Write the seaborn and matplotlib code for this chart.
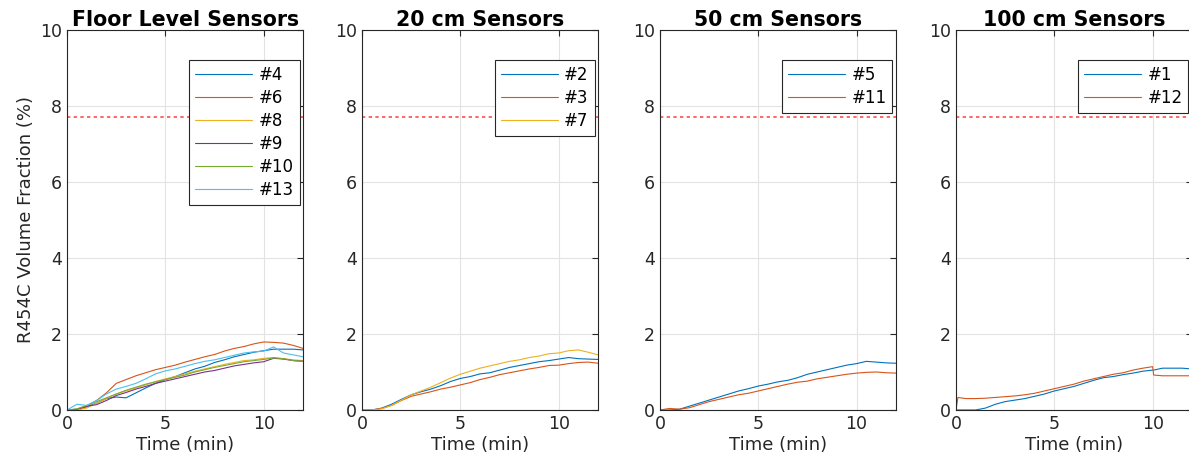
import matplotlib
matplotlib.use("Agg")
import matplotlib.pyplot as plt
import seaborn as sns
import pandas as pd

# MATLAB-like default colours
C_BLUE = "#0072BD"
C_ORANGE = "#D95319"
C_YELLOW = "#EDB120"
C_PURPLE = "#7E2F8E"
C_GREEN = "#77AC30"
C_CYAN = "#4DBEEE"

# Data (min, % volume fraction)
t = [0, 0.5, 1, 1.5, 2, 2.5, 3, 3.5, 4, 4.5, 5, 5.5, 6, 6.5, 7, 7.5, 8, 8.5,
     9, 9.5, 10, 10.5, 11, 11.5, 12]

floor_s4 = [0, 0, 0.08, 0.18, 0.3, 0.34, 0.32, 0.45, 0.58, 0.7, 0.8, 0.88, 0.98,
            1.08, 1.15, 1.25, 1.32, 1.4, 1.46, 1.52, 1.56, 1.6, 1.6, 1.6, 1.58]
floor_s6 = [0, 0, 0.1, 0.25, 0.45, 0.7, 0.8, 0.9, 0.98, 1.06, 1.12, 1.18, 1.26,
            1.33, 1.4, 1.46, 1.55, 1.62, 1.67, 1.74, 1.79, 1.78, 1.76, 1.7, 1.62]
floor_s8 = [0, 0, 0.05, 0.18, 0.3, 0.42, 0.5, 0.58, 0.66, 0.75, 0.82, 0.88, 0.95,
            1.02, 1.08, 1.14, 1.2, 1.25, 1.3, 1.32, 1.36, 1.38, 1.35, 1.32, 1.3]
floor_s9 = [0, 0.02, 0.1, 0.14, 0.25, 0.38, 0.46, 0.55, 0.62, 0.7, 0.76, 0.82, 0.88,
            0.94, 1.0, 1.04, 1.1, 1.16, 1.2, 1.24, 1.27, 1.36, 1.34, 1.3, 1.28]
floor_s10 = [0, 0.03, 0.12, 0.22, 0.32, 0.42, 0.52, 0.6, 0.68, 0.74, 0.8, 0.86, 0.92,
             1.0, 1.06, 1.12, 1.17, 1.22, 1.27, 1.3, 1.33, 1.37, 1.35, 1.3, 1.28]
floor_s13 = [0, 0.15, 0.12, 0.25, 0.42, 0.55, 0.62, 0.7, 0.82, 0.95, 1.03, 1.08, 1.15,
             1.22, 1.28, 1.32, 1.38, 1.44, 1.5, 1.53, 1.55, 1.66, 1.5, 1.45, 1.4]

cm20_s2 = [0, 0, 0.05, 0.15, 0.28, 0.4, 0.48, 0.55, 0.64, 0.75, 0.83, 0.88, 0.95,
           0.98, 1.05, 1.12, 1.17, 1.22, 1.27, 1.3, 1.34, 1.38, 1.35, 1.34, 1.33]
cm20_s3 = [0, 0, 0.04, 0.12, 0.25, 0.36, 0.42, 0.48, 0.55, 0.6, 0.66, 0.72, 0.8,
           0.86, 0.93, 0.98, 1.03, 1.08, 1.12, 1.17, 1.18, 1.22, 1.25, 1.26, 1.23]
cm20_s7 = [0, 0, 0.03, 0.12, 0.26, 0.4, 0.5, 0.6, 0.72, 0.84, 0.94, 1.02, 1.1,
           1.16, 1.22, 1.28, 1.32, 1.38, 1.42, 1.48, 1.5, 1.56, 1.58, 1.52, 1.45]

cm50_s5 = [0, 0, 0.02, 0.1, 0.18, 0.26, 0.34, 0.42, 0.5, 0.56, 0.63, 0.68, 0.74,
           0.78, 0.85, 0.94, 1.0, 1.06, 1.12, 1.18, 1.22, 1.28, 1.26, 1.24, 1.23]
cm50_s11 = [0, 0.04, 0.02, 0.06, 0.14, 0.22, 0.28, 0.34, 0.4, 0.44, 0.5, 0.56, 0.62,
            0.68, 0.73, 0.76, 0.82, 0.86, 0.9, 0.94, 0.97, 0.99, 1.0, 0.98, 0.97]

t100 = [0, 0.1, 0.5, 1, 1.5, 2, 2.5, 3, 3.5, 4, 4.5, 5, 5.5, 6, 6.5, 7, 7.5, 8,
        8.5, 9, 9.5, 10, 10.05, 10.5, 11, 11.5, 12]
cm100_s1 = [0, 0, 0, 0, 0.05, 0.15, 0.22, 0.26, 0.3, 0.36, 0.42, 0.5, 0.56, 0.62,
            0.7, 0.78, 0.85, 0.88, 0.93, 0.97, 1.02, 1.05, 1.05, 1.1, 1.1, 1.1, 1.08]
cm100_s12 = [0, 0.33, 0.3, 0.3, 0.31, 0.33, 0.35, 0.37, 0.4, 0.44, 0.5, 0.56, 0.62,
             0.68, 0.76, 0.82, 0.88, 0.94, 0.98, 1.05, 1.1, 1.14, 0.92, 0.9, 0.9,
             0.9, 0.9]

lfl = 7.7  # flammability limit line

panels = [
    ("Floor Level Sensors", t,
     [("#4", floor_s4, C_BLUE), ("#6", floor_s6, C_ORANGE), ("#8", floor_s8, C_YELLOW),
      ("#9", floor_s9, C_PURPLE), ("#10", floor_s10, C_GREEN), ("#13", floor_s13, C_CYAN)]),
    ("20 cm Sensors", t,
     [("#2", cm20_s2, C_BLUE), ("#3", cm20_s3, C_ORANGE), ("#7", cm20_s7, C_YELLOW)]),
    ("50 cm Sensors", t,
     [("#5", cm50_s5, C_BLUE), ("#11", cm50_s11, C_ORANGE)]),
    ("100 cm Sensors", t100,
     [("#1", cm100_s1, C_BLUE), ("#12", cm100_s12, C_ORANGE)]),
]

sns.set_style("white")
plt.rcParams["font.family"] = ["DejaVu Sans"]

fig = plt.figure(figsize=(11.89, 4.70), dpi=100)
lefts = [0.0564, 0.3045, 0.555, 0.804]
w, h, b = 0.1985, 0.8085, 0.1277

for i, (title, tt, series) in enumerate(panels):
    ax = fig.add_axes([lefts[i], b, w, h])
    for name, vals, col in series:
        df = pd.DataFrame({"t": tt, "v": vals})
        sns.lineplot(data=df, x="t", y="v", ax=ax, color=col, linewidth=0.8,
                     label=name)
    ax.axhline(lfl, color="#FF4D4D", linewidth=1.2, linestyle=(0, (2, 2)))
    ax.set_xlim(0, 12)
    ax.set_ylim(0, 10)
    ax.set_xticks([0, 5, 10])
    ax.set_yticks([0, 2, 4, 6, 8, 10])
    ax.grid(True, color="#E3E3E3", linewidth=0.8)
    ax.tick_params(direction="in", top=True, right=True, labelsize=12.5,
                   colors="#262626", length=4, width=0.8)
    for sp in ax.spines.values():
        sp.set_color("#262626")
        sp.set_linewidth(0.8)
    ax.set_title(title, fontsize=14.8, fontweight="bold", color="black", pad=3)
    ax.set_xlabel("Time (min)", fontsize=13, color="#262626", labelpad=2)
    if i == 0:
        ax.set_ylabel("R454C Volume Fraction (%)", fontsize=13, color="#262626",
                      labelpad=4)
    else:
        ax.set_ylabel("")
    leg = ax.legend(loc="upper right", bbox_to_anchor=(0.985, 0.92), fontsize=12,
                    frameon=True, fancybox=False, framealpha=1, edgecolor="#262626",
                    handlelength=3.4, handletextpad=0.4, labelspacing=0.3,
                    borderpad=0.35, borderaxespad=0, labelcolor="black")
    leg.get_frame().set_linewidth(0.8)

fig.savefig("out.png", dpi=100)
plt.close(fig)
